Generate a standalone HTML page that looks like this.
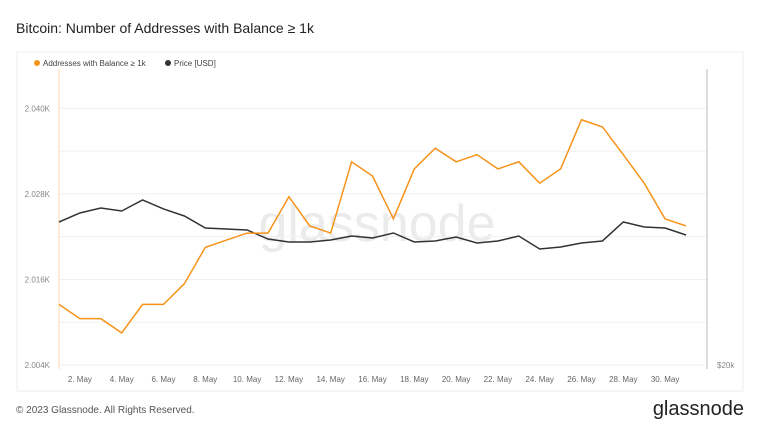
<!DOCTYPE html>
<html><head><meta charset="utf-8"><style>
body{margin:0;background:#fff;font-family:"Liberation Sans",sans-serif}
</style></head><body>
<svg width="760" height="428" viewBox="0 0 760 428" xmlns="http://www.w3.org/2000/svg" font-family="Liberation Sans, sans-serif">
<rect width="760" height="428" fill="#fff"/>
<text x="16" y="33" font-size="14" fill="#222">Bitcoin: Number of Addresses with Balance ≥ 1k</text>
<rect x="17" y="52" width="726" height="339" fill="none" stroke="#eee"/>
<g>
<circle cx="37" cy="63" r="3" fill="#f7931a"/><text x="43" y="66" font-size="8" fill="#444">Addresses with Balance ≥ 1k</text>
<circle cx="168" cy="63" r="3" fill="#333"/><text x="174" y="66" font-size="8" fill="#444">Price [USD]</text>
</g>
<text x="377" y="241" font-size="52" fill="#ebebeb" text-anchor="middle">glassnode</text>
<g id="grid"></g><g id="xt"></g><g id="yt"></g>
<line x1="59" y1="69" x2="59" y2="369" stroke="#fbd9ae"/>
<line x1="707" y1="69" x2="707" y2="369" stroke="#bbb"/>
<text x="717" y="368" font-size="8" fill="#888">$20k</text>
<path id="pl" fill="none" stroke="#333" stroke-width="1.5"/>
<path id="al" fill="none" stroke="#f7931a" stroke-width="1.5"/>
<text x="16" y="413" font-size="10" fill="#555">© 2023 Glassnode. All Rights Reserved.</text>
<text x="744" y="415" font-size="20" fill="#222" text-anchor="end">glassnode</text>
</svg>
<script>
const days=[1,2,3,4,5,6,7,8,9,10,11,12,13,14,15,16,17,18,19,20,21,22,23,24,25,26,27,28,29,30,31];
const addresses=[2012.5,2010.5,2010.5,2008.5,2012.5,2012.5,2015.4,2020.5,2021.5,2022.5,2022.5,2027.6,2023.5,2022.5,2032.5,2030.5,2024.5,2031.5,2034.4,2032.5,2033.5,2031.5,2032.5,2029.5,2031.5,2038.4,2037.4,2033.5,2029.5,2024.5,2023.5];
const price=[27713,28199,28469,28307,28900,28415,28037,27390,27336,27282,26796,26635,26635,26743,26958,26850,27120,26635,26689,26904,26581,26689,26958,26257,26365,26581,26689,27713,27444,27390,27012];
const yTicks=[2004,2016,2028,2040];
const yGrid=[2004,2010,2016,2022,2028,2034,2040];
const xTickDays=[2,4,6,8,10,12,14,16,18,20,22,24,26,28,30];
const NS="http://www.w3.org/2000/svg";
const x=d=>59+(d-1)*20.9;
const y=v=>365-(v-2004)*7.13;
const yp=p=>365-(p-20000)*0.01854;
const mk=(t,a,par)=>{const e=document.createElementNS(NS,t);for(const k in a)e.setAttribute(k,a[k]);document.getElementById(par).appendChild(e);return e;};
yGrid.forEach(v=>{const e=mk('line',{x1:59,x2:707,y1:y(v),y2:y(v),stroke:'#f0f0f0'},'grid');

});
yTicks.forEach(v=>{const e=mk('text',{x:50,y:y(v)+3,'font-size':8,fill:'#888','text-anchor':'end'},'yt');e.textContent=(v/1000).toFixed(3)+'K';

});
xTickDays.forEach(d=>{const e=mk('text',{x:x(d),y:382,'font-size':8,fill:'#666','text-anchor':'middle'},'xt');e.textContent=d+'. May';

});
document.getElementById('al').setAttribute('d',days.map((d,i)=>(i?'L':'M')+x(d)+' '+y(addresses[i])).join(''));
document.getElementById('pl').setAttribute('d',days.map((d,i)=>(i?'L':'M')+x(d)+' '+yp(price[i])).join(''));
</script>
</body></html>
